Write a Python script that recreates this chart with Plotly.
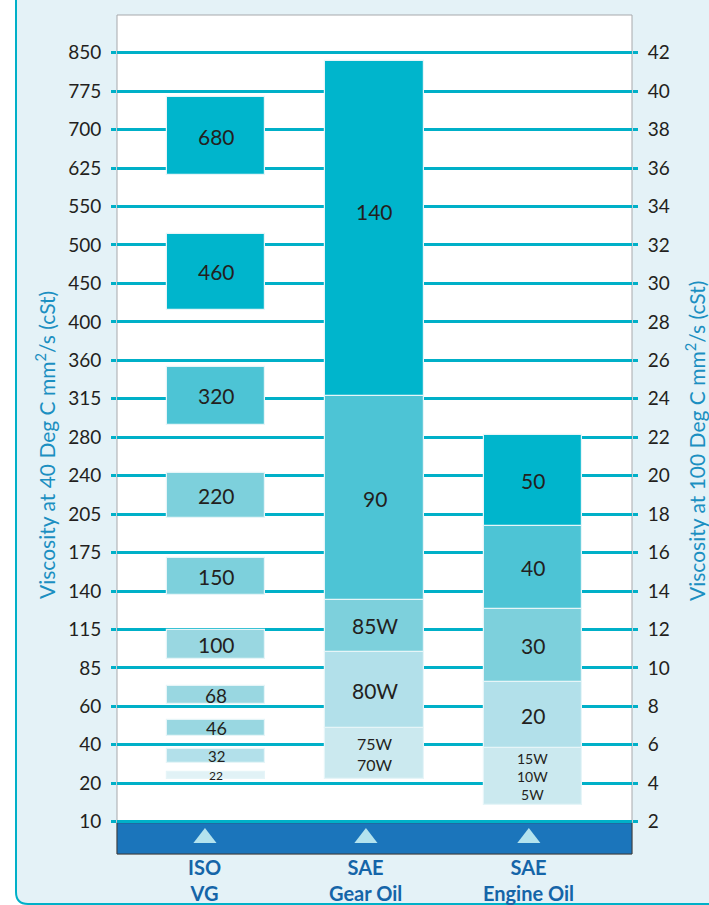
import plotly.graph_objects as go

# ---------------- data ----------------
categories = ["ISO<br>VG", "SAE<br>Gear Oil", "SAE<br>Engine Oil"]

# right axis: viscosity at 100 deg C (linear scale), left axis: matching 40 deg C labels
visc100_ticks = [42, 40, 38, 36, 34, 32, 30, 28, 26, 24, 22, 20, 18, 16, 14, 12, 10, 8, 6, 4, 2]
visc40_labels = ["850", "775", "700", "625", "550", "500", "450", "400", "360", "315", "280",
                 "240", "205", "175", "140", "115", "85", "60", "40", "20", "10"]

iso_grades = ["22", "32", "46", "68", "100", "150", "220", "320", "460", "680"]
iso_low = [4.22, 5.07, 6.46, 8.11, 10.45, 13.79, 17.81, 22.65, 28.62, 35.65]
iso_high = [4.60, 5.77, 7.27, 9.07, 11.96, 15.70, 20.12, 25.64, 32.57, 39.68]

gear_grades = ["75W<br>70W", "80W", "85W", "90", "140"]
gear_low = [4.22, 6.86, 10.83, 13.53, 24.14]
gear_high = [6.86, 10.83, 13.53, 24.14, 41.57]

engine_grades = ["15W<br>10W<br>5W", "20", "30", "40", "50"]
engine_low = [2.88, 5.82, 9.27, 13.06, 17.40]
engine_high = [5.82, 9.27, 13.06, 17.40, 22.10]

# ---------------- styles ----------------
C0, C1, C2, C3, C4, C5 = "#00b5cc", "#4dc4d5", "#7dd0dc", "#99d7e1", "#b2e0ea", "#cbe9ef"
iso_colors = ["#e1f2f6", C4, C3, C3, C3, C2, C2, C1, C0, C0]
iso_fs = [12, 15, 18, 19, 21, 21, 21, 21, 21, 21]
gear_colors = [C5, C4, C2, C1, C0]
gear_fs = [16, 21, 21, 21, 21]
gear_shift = [0, 0, 0, 0, 17]
engine_colors = [C5, C4, C2, C1, C0]
engine_fs = [14, 21, 21, 21, 21]

FONT = "Lato"
TEAL = "#00b0c8"
TXT = "#231f20"
TITLE_C = "#1b8fc1"
CAT_C = "#1565a8"

W, H = 709, 905
ML, MR, MT, MB = 117, 77, 15, 51
PW, PH = W - ML - MR, H - MT - MB


def px(x):
    return (x - ML) / PW


def py(y):
    return 1 - (y - MT) / PH


fig = go.Figure()

groups = [
    (0, iso_grades, iso_low, iso_high, iso_colors, iso_fs, [0] * len(iso_grades)),
    (1, gear_grades, gear_low, gear_high, gear_colors, gear_fs, gear_shift),
    (2, engine_grades, engine_low, engine_high, engine_colors, engine_fs, [0] * len(engine_grades)),
]

annotations = []
for xi, grades, lo, hi, cols, fss, shifts in groups:
    fig.add_trace(go.Bar(
        x=[xi] * len(grades),
        base=lo,
        y=[h - l for l, h in zip(lo, hi)],
        width=0.62,
        marker=dict(color=cols, line=dict(color="#e6f5f8", width=1.2)),
        hoverinfo="skip",
        showlegend=False,
    ))
    for g, l, h, fs, sh in zip(grades, lo, hi, fss, shifts):
        annotations.append(dict(
            x=xi, y=(l + h) / 2, xref="x", yref="y", text=g, showarrow=False,
            font=dict(family=FONT, size=fs, color=TXT), yshift=sh, align="center",
        ))

# category marker triangles on the band
tri_x = [-0.07, 0.946, 1.974]
fig.add_trace(go.Scatter(
    x=tri_x, y=[1.15] * 3, mode="markers",
    marker=dict(symbol="triangle-up", size=20, color="#b3e3ee"),
    hoverinfo="skip", showlegend=False,
))
# invisible trace to activate right axis
fig.add_trace(go.Scatter(x=[0], y=[20], yaxis="y2", mode="markers",
                         marker=dict(opacity=0), hoverinfo="skip", showlegend=False))

for cx, cat in zip(tri_x, categories):
    annotations.append(dict(
        x=cx, y=py(853), xref="x", yref="paper", xanchor="center", yanchor="top",
        text="<b>" + cat + "</b>",
        showarrow=False, font=dict(family=FONT, size=20, color=CAT_C), align="center",
    ))

annotations.append(dict(
    x=px(45), y=py(445), xref="paper", yref="paper", xanchor="center", yanchor="middle",
    textangle=-90,
    text="Viscosity at 40 Deg C mm<sup>2</sup>/s (cSt)", showarrow=False,
    font=dict(family=FONT, size=21, color=TITLE_C)))
annotations.append(dict(
    x=px(695), y=py(441), xref="paper", yref="paper", xanchor="center", yanchor="middle",
    textangle=-90,
    text="Viscosity at 100 Deg C mm<sup>2</sup>/s (cSt)", showarrow=False,
    font=dict(family=FONT, size=21, color=TITLE_C)))

r = 12
shapes = [
    # light blue frame with rounded bottom-left corner
    dict(type="path", xref="paper", yref="paper", layer="below",
         path=(f"M {px(16)},{py(-5)} L {px(16)},{py(904 - r)} "
               f"Q {px(16)},{py(904)} {px(16 + r)},{py(904)} "
               f"L {px(730)},{py(904)} L {px(730)},{py(-5)} Z"),
         fillcolor="#e4f2f7", line=dict(color=TEAL, width=2)),
    # white plot area
    dict(type="rect", xref="paper", yref="paper", layer="below",
         x0=0, x1=1, y0=0, y1=1, fillcolor="white", line=dict(color="#a7a9ac", width=1)),
    # dark blue category band
    dict(type="rect", xref="paper", yref="paper", layer="below",
         x0=0, x1=1, y0=0, y1=py(822.7), fillcolor="#1b75bb", line=dict(color="#3a3a3a", width=1)),
]

fig.update_layout(
    width=W, height=H,
    margin=dict(l=ML, r=MR, t=MT, b=MB),
    paper_bgcolor="white", plot_bgcolor="rgba(0,0,0,0)",
    barmode="overlay", bargap=0,
    font=dict(family=FONT, color=TXT),
    xaxis=dict(range=[-0.625, 2.625], showgrid=False, zeroline=False, showticklabels=False,
               ticks="", fixedrange=True),
    yaxis=dict(range=[0.32, 43.961], tickvals=visc100_ticks, ticktext=visc40_labels,
               showgrid=True, gridcolor=TEAL, gridwidth=3, zeroline=False,
               ticks="outside", ticklen=5, tickwidth=3, tickcolor=TEAL,
               ticklabelstandoff=6, tickfont=dict(family=FONT, size=19, color=TXT)),
    yaxis2=dict(range=[0.32, 43.961], overlaying="y", side="right", tickvals=visc100_ticks,
                showgrid=False, zeroline=False,
                ticks="outside", ticklen=5, tickwidth=3, tickcolor=TEAL,
                ticklabelstandoff=6, tickfont=dict(family=FONT, size=19, color=TXT)),
    shapes=shapes,
    annotations=annotations,
)

fig.write_html("out.html", config={"displayModeBar": False},
               post_script="document.body.style.margin='0';document.body.style.overflow='hidden';")
